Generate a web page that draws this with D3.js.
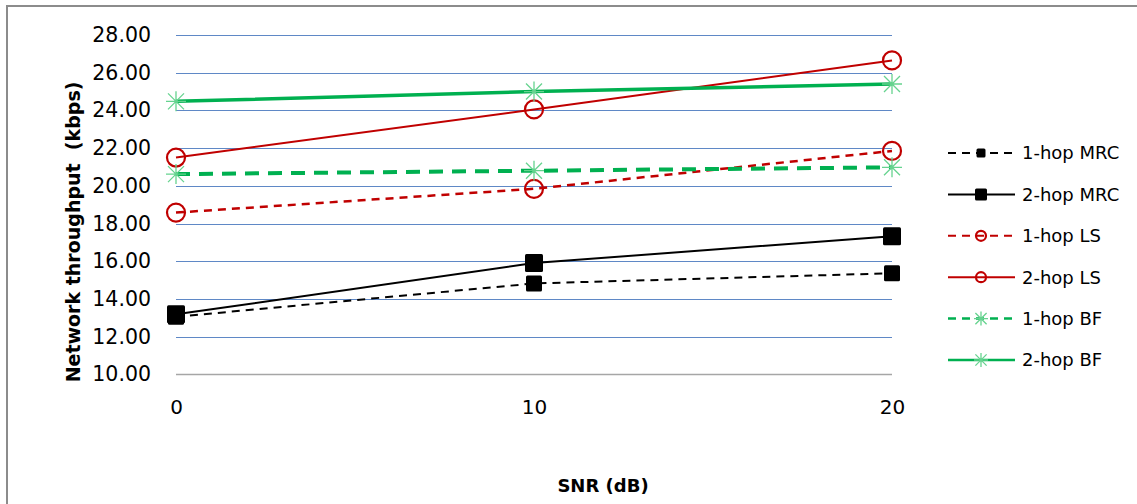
<!DOCTYPE html>
<html>
<head>
<meta charset="utf-8">
<script src="https://cdn.jsdelivr.net/npm/d3@7/dist/d3.min.js"></script>
<style>
  html, body { margin: 0; padding: 0; background: #fff; }
  svg { display: block; }
  text { font-family: "DejaVu Sans", sans-serif; fill: #000; }
</style>
</head>
<body>
<script>
// SNR sweep points (dB)
const snr = [0, 10, 20];

// Network throughput (kbps) per scheme
const oneHopMRC = [13.05, 14.82, 15.36];
const twoHopMRC = [13.18, 15.90, 17.33];
const oneHopLS  = [18.58, 19.84, 21.85];
const twoHopLS  = [21.50, 24.05, 26.65];
const oneHopBF  = [20.62, 20.80, 20.98];
const twoHopBF  = [24.48, 25.00, 25.40];

const seriesNames = ["1-hop MRC", "2-hop MRC", "1-hop LS", "2-hop LS", "1-hop BF", "2-hop BF"];
const yTicks = [10, 12, 14, 16, 18, 20, 22, 24, 26, 28];

const W = 1137, H = 504;
const svg = d3.select("body").append("svg").attr("width", W).attr("height", H);

// outer chart frame (top and left edges visible)
svg.append("path")
  .attr("d", `M7,${H} L7,6 L${W},6`)
  .attr("fill", "none").attr("stroke", "#8c8c8c").attr("stroke-width", 2);

const x = d3.scaleLinear().domain([0, 20]).range([176, 892]);
const y = d3.scaleLinear().domain([10, 28]).range([374.3, 35]);

// horizontal gridlines
svg.append("g").selectAll("line").data(yTicks.filter(t => t > 10)).join("line")
  .attr("x1", x(0)).attr("x2", x(20))
  .attr("y1", d => Math.round(y(d)) + 0.5).attr("y2", d => Math.round(y(d)) + 0.5)
  .attr("stroke", "#5f88c6").attr("stroke-width", 1.2);

// x-axis baseline
svg.append("line")
  .attr("x1", x(0)).attr("x2", x(20))
  .attr("y1", Math.round(y(10)) + 0.5).attr("y2", Math.round(y(10)) + 0.5)
  .attr("stroke", "#a6a6a6").attr("stroke-width", 1.5);

// y tick labels
const yAxis = d3.axisLeft(y).tickValues(yTicks).tickFormat(d3.format(".2f")).tickSize(0).tickPadding(0);
const gy = svg.append("g").attr("transform", "translate(151,0)").call(yAxis);
gy.select(".domain").remove();
gy.selectAll("text").attr("font-size", 20.5).attr("font-family", "DejaVu Sans, sans-serif").attr("fill", "#000");

// x tick labels
const xAxis = d3.axisBottom(x).tickValues(snr).tickFormat(d3.format("d")).tickSize(0).tickPadding(0);
const gx = svg.append("g").attr("transform", "translate(0,400)").call(xAxis);
gx.select(".domain").remove();
gx.selectAll("text").attr("font-size", 20).attr("font-family", "DejaVu Sans, sans-serif").attr("fill", "#000");

// axis titles
svg.append("text")
  .attr("transform", "translate(80,232) rotate(-90)")
  .attr("text-anchor", "middle")
  .attr("font-size", 19).attr("font-weight", "bold")
  .style("white-space", "pre")
  .text("Network throughput  (kbps)");

svg.append("text")
  .attr("x", 603).attr("y", 492)
  .attr("text-anchor", "middle")
  .attr("font-size", 18).attr("font-weight", "bold")
  .text("SNR (dB)");

const RED = "#c00000", GREEN = "#00b050", STAR = "#66d38f";

const series = [
  { name: seriesNames[0], values: oneHopMRC, color: "#000", width: 2, dash: "8,6", marker: "square", size: 16, lsize: 9 },
  { name: seriesNames[1], values: twoHopMRC, color: "#000", width: 2, dash: null, marker: "square", size: 18, lsize: 12 },
  { name: seriesNames[2], values: oneHopLS, color: RED, width: 2.5, dash: "8,6", marker: "circle", size: 9, lsize: 5 },
  { name: seriesNames[3], values: twoHopLS, color: RED, width: 2, dash: null, marker: "circle", size: 9, lsize: 5 },
  { name: seriesNames[4], values: oneHopBF, color: GREEN, width: 4, dash: "14,9", marker: "star", size: 10, lsize: 7 },
  { name: seriesNames[5], values: twoHopBF, color: GREEN, width: 3.5, dash: null, marker: "star", size: 10, lsize: 7 }
];

function drawMarker(g, s, cx, cy, size) {
  if (s.marker === "square") {
    g.append("rect")
      .attr("x", cx - size / 2).attr("y", cy - size / 2)
      .attr("width", size).attr("height", size)
      .attr("rx", 1.5)
      .attr("fill", "#000");
  } else if (s.marker === "circle") {
    g.append("circle")
      .attr("cx", cx).attr("cy", cy).attr("r", size)
      .attr("fill", "none").attr("stroke", RED).attr("stroke-width", 2.2);
  } else {
    const r = size;
    const p = d3.path();
    p.moveTo(cx - r, cy); p.lineTo(cx + r, cy);
    p.moveTo(cx, cy - r); p.lineTo(cx, cy + r);
    p.moveTo(cx - r * 0.8, cy - r * 0.8); p.lineTo(cx + r * 0.8, cy + r * 0.8);
    p.moveTo(cx - r * 0.8, cy + r * 0.8); p.lineTo(cx + r * 0.8, cy - r * 0.8);
    g.append("path").attr("d", p.toString())
      .attr("stroke", STAR).attr("stroke-width", 1.3).attr("fill", "none");
  }
}

const line = d3.line().x((d, i) => x(snr[i])).y(d => y(d));
const plot = svg.append("g");

// lower series first so the upper ones sit on top
series.forEach(s => {
  const g = plot.append("g");
  g.append("path")
    .attr("d", line(s.values))
    .attr("fill", "none")
    .attr("stroke", s.color)
    .attr("stroke-width", s.width)
    .attr("stroke-dasharray", s.dash);
  s.values.forEach((v, i) => drawMarker(g, s, x(snr[i]), y(v), s.size));
});

// legend
const legend = svg.append("g");
series.forEach((s, i) => {
  const ly = 153 + i * 41.4;
  const g = legend.append("g");
  g.append("line")
    .attr("x1", 948).attr("x2", 1015).attr("y1", ly).attr("y2", ly)
    .attr("stroke", s.color)
    .attr("stroke-width", s.marker === "star" ? 2.5 : 2)
    .attr("stroke-dasharray", s.dash ? "8,6" : null);
  drawMarker(g, s, 981, ly, s.lsize);
  g.append("text")
    .attr("x", 1022).attr("y", ly)
    .attr("dy", "0.35em")
    .attr("font-size", 18)
    .text(s.name);
});
</script>
</body>
</html>
